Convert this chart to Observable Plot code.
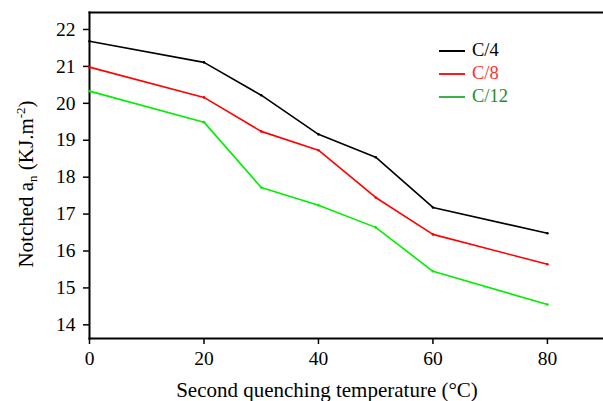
<!DOCTYPE html>
<html><head><meta charset="utf-8">
<script src="https://cdn.jsdelivr.net/npm/d3@7"></script>
<script src="https://cdn.jsdelivr.net/npm/@observablehq/plot@0.6"></script>
<style>
html,body{margin:0;padding:0;background:#fff;overflow:hidden}
#wrap{position:relative;width:603px;height:401px}
#legend{position:absolute;left:439px;top:39px;font-family:"Liberation Serif","Times New Roman",serif;font-size:18.5px;line-height:23px}
#legend div{display:flex;align-items:center}
#legend span.l{display:inline-block;width:26px;height:0;border-top:2px solid;margin-right:7px}
svg text{font-family:"Liberation Serif","Times New Roman",serif}
</style></head>
<body><div id="wrap"><div id="legend"></div></div>
<script>
const temps = [0, 20, 30, 40, 50, 60, 80];
const series = ["C/4", "C/8", "C/12"];
const c4  = [21.68, 21.11, 20.22, 19.16, 18.54, 17.18, 16.48];
const c8  = [20.98, 20.16, 19.24, 18.73, 17.45, 16.45, 15.64];
const c12 = [20.33, 19.49, 17.72, 17.24, 16.64, 15.45, 14.55];
const xTicks = [0, 20, 40, 60, 80];
const yTicks = [14, 15, 16, 17, 18, 19, 20, 21, 22];

const lineColors = {"C/4": "#000000", "C/8": "#ff0000", "C/12": "#00ee00"};
const legendLine = {"C/4": "#000000", "C/8": "#ff1a1a", "C/12": "#3cb04a"};
const legendText = {"C/4": "#000000", "C/8": "#ff3030", "C/12": "#2a8a2a"};

const vals = {"C/4": c4, "C/8": c8, "C/12": c12};
const data = series.flatMap(s => temps.map((t, i) => ({s, t, v: vals[s][i]})));

const font = '"Liberation Serif", "Times New Roman", serif';
const chart = Plot.plot({
  width: 603, height: 401,
  marginLeft: 89, marginRight: 0, marginTop: 12, marginBottom: 63,
  style: {fontFamily: font, fontSize: "19.5px", color: "#000", background: "#fff"},
  x: {domain: [0, 89.8], label: null},
  y: {domain: [13.63, 22.46], label: null},
  marks: [
    Plot.axisX({ticks: xTicks, tickSize: 6, tickPadding: 7, strokeWidth: 1.5, fontSize: 19.5, label: null}),
    Plot.axisY({ticks: yTicks, tickSize: 6, tickPadding: 8, strokeWidth: 1.5, fontSize: 19.5, label: null}),
    Plot.frame({anchor: "top", strokeWidth: 2}),
    Plot.frame({anchor: "left", strokeWidth: 2}),
    Plot.frame({anchor: "bottom", strokeWidth: 2}),
    Plot.line(data, {x: "t", y: "v", z: "s", stroke: d => lineColors[d.s], strokeWidth: 1.6}),
    Plot.dot(data, {x: "t", y: "v", r: 1.3, fill: d => lineColors[d.s], stroke: null})
  ]
});
document.getElementById("wrap").prepend(chart);

const svg = d3.select(chart);
svg.append("text")
  .attr("x", 327).attr("y", 397)
  .attr("text-anchor", "middle")
  .attr("font-size", 21).attr("fill", "#000")
  .text("Second quenching temperature (°C)");

const yl = svg.append("text")
  .attr("transform", "translate(33,184) rotate(-90)")
  .attr("text-anchor", "middle")
  .attr("font-size", 21).attr("fill", "#000");
yl.append("tspan").text("Notched a");
yl.append("tspan").attr("font-size", 13).attr("dy", 4).text("n");
yl.append("tspan").attr("dy", -4).text(" (KJ.m");
yl.append("tspan").attr("font-size", 13).attr("dy", -8).text("-2");
yl.append("tspan").attr("dy", 8).text(")");

const lg = d3.select("#legend");
series.forEach(s => {
  const row = lg.append("div");
  row.append("span").attr("class", "l").style("border-color", legendLine[s]);
  row.append("span").style("color", legendText[s]).text(s);
});
</script></body></html>
